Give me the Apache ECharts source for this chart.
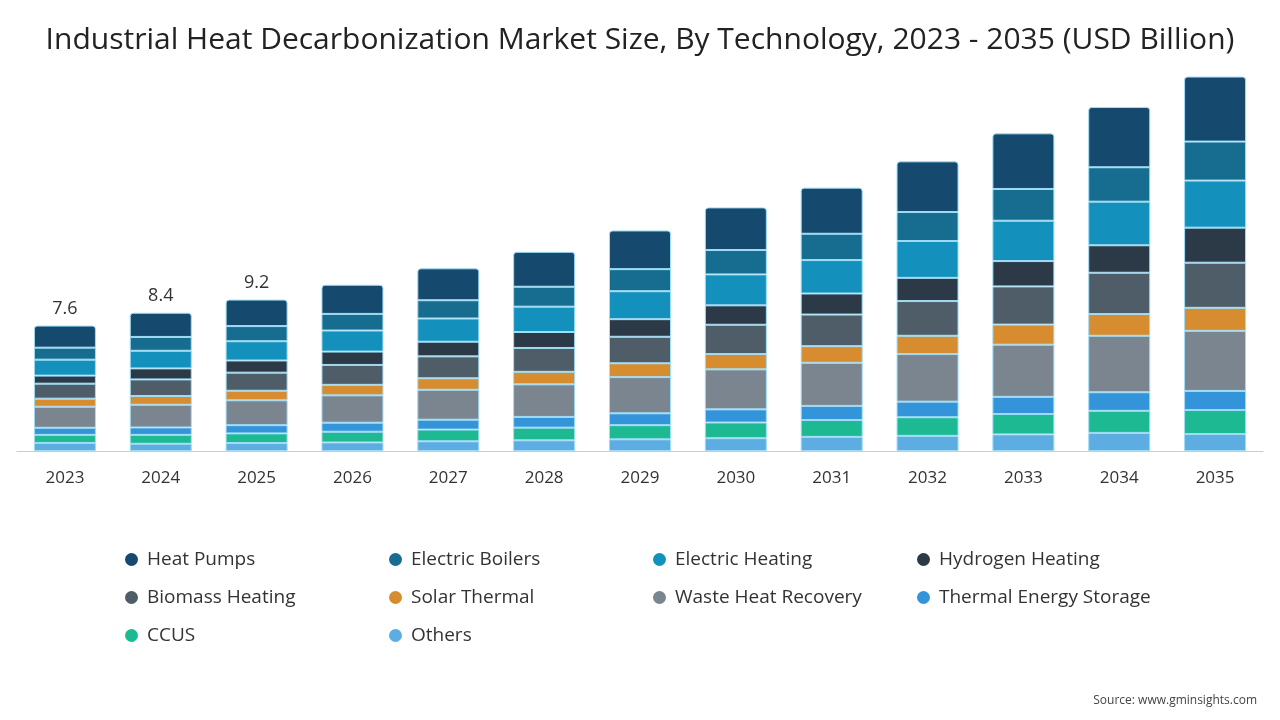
<!DOCTYPE html><html><head><meta charset="utf-8">
<script src="https://cdn.jsdelivr.net/npm/echarts@6/dist/echarts.min.js"></script>
<style>html,body{margin:0;padding:0;background:#fff}#c{width:1280px;height:720px}</style></head><body><div id="c"></div>
<script>
const years=['2023','2024','2025','2026','2027','2028','2029','2030','2031','2032','2033','2034','2035'];
const totals=[7.6,8.4,9.2,10.1,11.1,12.1,13.4,14.8,16.0,17.6,19.3,20.9,22.7];
const others=[0.49,0.44,0.48,0.52,0.59,0.65,0.71,0.78,0.86,0.92,1.01,1.10,1.03];
const ccus=[0.49,0.54,0.59,0.65,0.71,0.77,0.86,0.95,1.02,1.13,1.24,1.34,1.46];
const tes=[0.43,0.45,0.50,0.55,0.60,0.65,0.72,0.80,0.86,0.95,1.04,1.13,1.16];
const waste=[1.28,1.38,1.51,1.66,1.82,1.98,2.20,2.43,2.62,2.89,3.17,3.43,3.65];
const solar=[0.49,0.53,0.58,0.64,0.70,0.76,0.84,0.93,1.01,1.11,1.22,1.32,1.40];
const biomass=[0.91,1.01,1.10,1.21,1.33,1.45,1.61,1.78,1.92,2.11,2.32,2.51,2.74];
const hydrogen=[0.49,0.67,0.74,0.81,0.89,0.97,1.07,1.18,1.28,1.41,1.54,1.67,2.13];
const eheating=[0.97,1.07,1.17,1.28,1.41,1.54,1.70,1.88,2.03,2.24,2.45,2.65,2.86];
const boilers=[0.73,0.84,0.92,1.01,1.11,1.21,1.34,1.48,1.60,1.76,1.93,2.09,2.37];
const pumps=[1.34,1.47,1.61,1.77,1.94,2.12,2.35,2.59,2.80,3.08,3.38,3.66,3.95];
const labeled=3;
const defs=[
['Others',others,'#5dade2'],['CCUS',ccus,'#1db993'],['Thermal Energy Storage',tes,'#3494d9'],
['Waste Heat Recovery',waste,'#7b858f'],['Solar Thermal',solar,'#d68c2f'],['Biomass Heating',biomass,'#4f5d69'],
['Hydrogen Heating',hydrogen,'#2c3a47'],['Electric Heating',eheating,'#1490bd'],['Electric Boilers',boilers,'#166d8f'],['Heat Pumps',pumps,'#154a6e']];
const series=defs.map((d,i)=>({name:d[0],type:'bar',stack:'a',barWidth:62,data:d[1],
 itemStyle:{color:d[2],borderColor:'#9fdcf5',borderWidth:1,borderRadius:i===defs.length-1?[3,3,0,0]:0},
 label:i===defs.length-1?{show:true,position:'top',distance:8,fontSize:18,color:'#333',fontFamily:'Open Sans',
   formatter:p=>p.dataIndex<labeled?totals[p.dataIndex].toFixed(1):''}:{show:false}}));
const cols=[['Heat Pumps','Biomass Heating','CCUS'],['Electric Boilers','Solar Thermal','Others'],['Electric Heating','Waste Heat Recovery'],['Hydrogen Heating','Thermal Energy Storage']];
const legend=cols.map((c,i)=>({data:c,orient:'vertical',left:120+i*264,top:545,icon:'circle',itemWidth:13,itemHeight:13,itemGap:19,
 itemStyle:{borderWidth:0},
 textStyle:{fontSize:19,color:'#333',fontFamily:'Open Sans',padding:[0,0,0,4]}}));
const ch=echarts.init(document.getElementById('c'));
ch.setOption({animation:false,
 title:[{text:'Industrial Heat Decarbonization Market Size, By Technology, 2023 - 2035 (USD Billion)',left:'center',top:20,textStyle:{fontSize:30,fontWeight:'normal',color:'#222',fontFamily:'Open Sans'}},
  {text:'Source: www.gminsights.com',right:18,bottom:8,textStyle:{fontSize:12,fontWeight:'normal',color:'#444',fontFamily:'Open Sans'}}],
 legend:legend,
 grid:{left:17,right:17,top:56,bottom:269},
 xAxis:{type:'category',data:years,axisTick:{show:false},axisLine:{lineStyle:{color:'#ccc'}},axisLabel:{fontSize:17,color:'#333',margin:19,fontFamily:'Open Sans'}},
 yAxis:{type:'value',min:0,max:24,show:false,splitLine:{show:false}},
 series:series});
</script></body></html>
